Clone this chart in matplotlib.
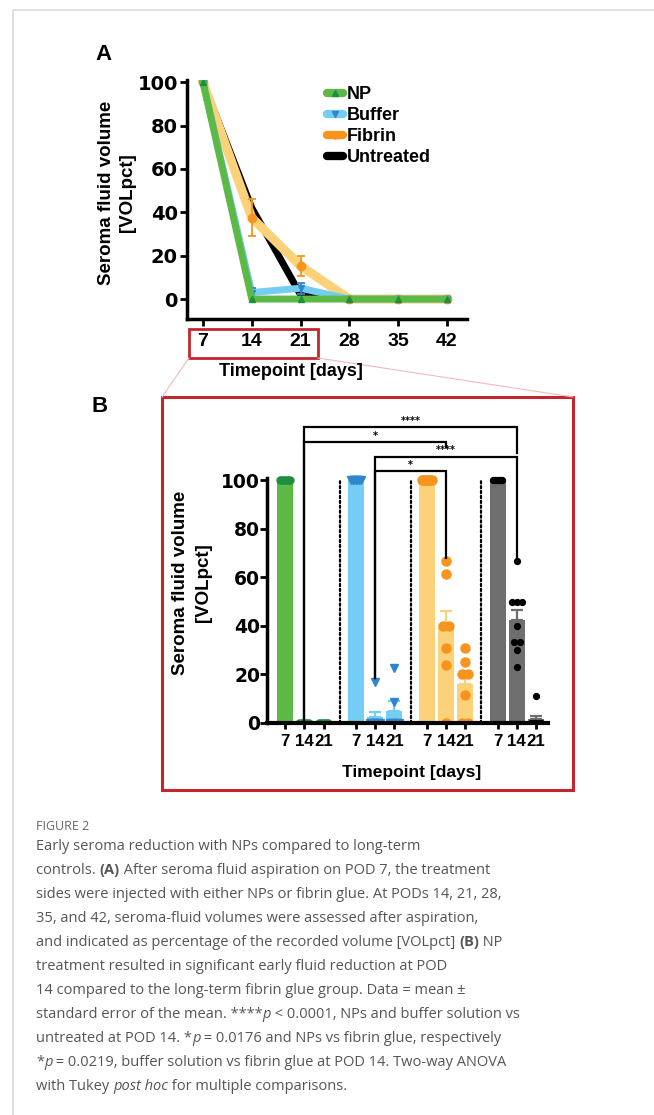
import numpy as np
import matplotlib
matplotlib.use("Agg")
import matplotlib.pyplot as plt
from matplotlib.lines import Line2D
from matplotlib.patches import Rectangle

W, H = 654, 1115

# ---- panel A data (percent of day-7 volume) ----
days = [7, 14, 21, 28, 35, 42]
np_a = [100, 0, 0, 0, 0, 0]
buffer_a = [100, 3, 5, 0, 0, 0]
buffer_a_err = [0, 2, 2.5, 0, 0, 0]
fibrin_a = [100, 37.5, 15.3, 0, 0, 0]
fibrin_a_err = [0, 8.5, 4.5, 0, 0, 0]
untreated_a = [100, 42, 2, 0, 0, 0]
legend_labels = ['NP', 'Buffer', 'Fibrin', 'Untreated']

# ---- panel B data (days 7, 14, 21 per group) ----
tp_labels = ['7', '14', '21']
np_b_mean = [100, 0, 0]
np_b_sem = [0, 0, 0]
np_b_pts = [[100] * 7, [0] * 7, [0] * 7]
buffer_b_mean = [100, 2.5, 5]
buffer_b_sem = [0, 2, 4]
buffer_b_pts = [[100] * 7, [17] + [0] * 6, [22.5, 8.5] + [0] * 5]
fibrin_b_mean = [100, 39, 16]
fibrin_b_sem = [0, 7, 4]
fibrin_b_pts = [[100] * 7,
                [66.7, 61.5, 40, 40, 30.8, 24, 0],
                [30.8, 25, 20, 20, 11.5, 0, 0]]
untreated_b_mean = [100, 42.5, 1.5]
untreated_b_sem = [0, 4, 1.2]
untreated_b_pts = [[100] * 9,
                   [66.7, 50, 50, 50, 40, 33.3, 33.3, 30, 23],
                   [11] + [0] * 8]
# comparisons at POD 14: (group a, group b, label)
comparisons = [(0, 3, '****'), (0, 2, '*'), (1, 3, '****'), (1, 2, '*')]

GREEN, GREEN_D = '#5cb946', '#1f8f3f'
BLUE, BLUE_D = '#74cdf3', '#2f86cc'
YEL, ORANGE = '#fbd27a', '#f7941d'
GRAY = '#6e6e6e'
RED = '#c1272d'
PINK = '#f3b9bd'

fig = plt.figure(figsize=(W / 100, H / 100), dpi=100)


def fx(x):
    return x / W


def fy(y):
    return 1 - y / H


def rect(l, t, r, b):
    return [l / W, 1 - b / H, (r - l) / W, (b - t) / H]


bold = dict(family='Liberation Sans', weight='bold')
tickfont = dict(family='DejaVu Sans', weight='bold', size=13.5)

# page border
fig.add_artist(Line2D([fx(13), fx(13), fx(W)], [fy(H), fy(10), fy(10)],
                      transform=fig.transFigure, color='#d9d9d9', lw=1.2))

# ================= panel A =================
axA = fig.add_axes(rect(187, 80, 467, 319))
axA.plot(days, untreated_a, color='black', lw=5, marker='o', ms=3, zorder=2)
axA.plot(days, fibrin_a, color=YEL, lw=6.5, zorder=3)
axA.errorbar(days, fibrin_a, yerr=fibrin_a_err, fmt='o', color=ORANGE, ms=6,
             capsize=3, elinewidth=1.3, capthick=1.3, zorder=4)
axA.plot(days, buffer_a, color=BLUE, lw=5, zorder=5)
axA.errorbar(days, buffer_a, yerr=buffer_a_err, fmt='v', color=BLUE_D, ms=5,
             capsize=3, elinewidth=1.3, capthick=1.3, zorder=6)
axA.plot(days, np_a, color=GREEN, lw=5, marker='^', mfc=GREEN_D, mec=GREEN_D,
         ms=5, zorder=7)
axA.set_xlim(4.7, 44.9)
axA.set_ylim(-9.2, 101)
for s in ['top', 'right']:
    axA.spines[s].set_visible(False)
for s in ['left', 'bottom']:
    axA.spines[s].set_linewidth(2.5)
axA.set_xticks(days)
axA.set_yticks([0, 20, 40, 60, 80, 100])
axA.tick_params(axis='y', width=2, length=5, pad=1.5)
axA.tick_params(axis='x', width=2, length=5, pad=5)
for lab in axA.get_yticklabels():
    lab.set(family='DejaVu Sans', weight='bold', size=14)
for lab in axA.get_xticklabels():
    lab.set(family='Liberation Sans', weight='bold', size=14)

handles = [
    Line2D([], [], color=GREEN, lw=6, marker='^', mfc=GREEN_D, mec=GREEN_D, ms=4,
           solid_capstyle='round'),
    Line2D([], [], color=BLUE, lw=6, marker='v', mfc=BLUE_D, mec=BLUE_D, ms=4,
           solid_capstyle='round'),
    Line2D([], [], color=ORANGE, lw=6, marker='o', ms=5, solid_capstyle='round'),
    Line2D([], [], color='black', lw=6, solid_capstyle='round'),
]
axA.legend(handles, legend_labels, loc='upper left',
           bbox_to_anchor=(fx(327), fy(86)), bbox_transform=fig.transFigure,
           frameon=False, handlelength=0.9, handletextpad=0.2,
           labelspacing=0.22, borderpad=0, borderaxespad=0,
           prop=dict(family='Liberation Sans', weight='bold', size=13))

fig.text(fx(117), fy(193), 'Seroma fluid volume\n[VOLpct]', rotation=90,
         ha='center', va='center', size=13.5, linespacing=1.3, **bold)
fig.text(fx(291), fy(372), 'Timepoint [days]', ha='center', va='center',
         size=13, **bold)
fig.text(fx(103), fy(55), 'A', ha='center', va='center', size=16, **bold)
fig.text(fx(100), fy(407), 'B', ha='center', va='center', size=16, **bold)

# zoom boxes and connectors
fig.add_artist(Rectangle((fx(189), fy(358)), fx(318) - fx(189), fy(329) - fy(358),
                         transform=fig.transFigure, fill=False, ec=RED, lw=2))
fig.add_artist(Line2D([fx(189), fx(162)], [fy(358), fy(397)],
                      transform=fig.transFigure, color=PINK, lw=0.8))
fig.add_artist(Line2D([fx(318), fx(573)], [fy(358), fy(397)],
                      transform=fig.transFigure, color=PINK, lw=0.8))
fig.add_artist(Rectangle((fx(162), fy(790)), fx(573) - fx(162), fy(397) - fy(790),
                         transform=fig.transFigure, fill=False, ec=RED, lw=2.2))

# ================= panel B =================
py = 2.43  # px per unit
axB = fig.add_axes(rect(267, 723 - 104 * py, 548, 723))
gstep = 3.68
groups = [
    (np_b_mean, np_b_sem, np_b_pts, GREEN, GREEN_D, 'o', 5),
    (buffer_b_mean, buffer_b_sem, buffer_b_pts, BLUE, BLUE_D, 'v', 5.5),
    (fibrin_b_mean, fibrin_b_sem, fibrin_b_pts, YEL, ORANGE, 'o', 6.5),
    (untreated_b_mean, untreated_b_sem, untreated_b_pts, GRAY, 'black', 'o', 4.2),
]


def spread(values, step=0.32, maxw=0.5):
    values = np.asarray(values, float)
    offs = np.zeros(len(values))
    for v in np.unique(values):
        idx = np.where(values == v)[0]
        c = len(idx)
        if c > 1:
            st = min(step, maxw / (c - 1))
            offs[idx] = (np.arange(c) - (c - 1) / 2) * st
    return offs


all_pos = []
for g, (mean, sem, pts, col, mcol, mk, ms) in enumerate(groups):
    pos = g * gstep + np.arange(3)
    all_pos.extend(pos)
    axB.bar(pos, mean, width=0.83, color=col, zorder=2)
    axB.errorbar(pos, mean, yerr=[np.zeros(3), sem], fmt='none', ecolor=col,
                 capsize=4, elinewidth=1.6, capthick=1.6, zorder=3)
    for p, vals in zip(pos, pts):
        axB.plot(p + spread(vals), vals, ls='none', marker=mk, ms=ms,
                 mfc=mcol, mec=mcol, zorder=4)
all_pos = np.array(all_pos)

for g in range(3):
    xm = (all_pos[g * 3 + 2] + all_pos[g * 3 + 3]) / 2
    axB.plot([xm, xm], [0, 100], color='black', lw=1.6, ls=(0, (1, 1.2)),
             dash_capstyle='round', zorder=1)

axB.set_xlim(-0.935, 13.66)
axB.set_ylim(0, 104)
for s in ['top', 'right']:
    axB.spines[s].set_visible(False)
axB.spines['left'].set_linewidth(2.5)
axB.spines['bottom'].set_linewidth(3)
axB.spines['left'].set_bounds(0, 100.7)
axB.spines['bottom'].set_zorder(5)
axB.set_xticks(all_pos)
axB.set_xticklabels(tp_labels * 4)
axB.set_yticks([0, 20, 40, 60, 80, 100])
axB.tick_params(axis='y', width=2, length=5, pad=0)
axB.tick_params(axis='x', width=2, length=4, pad=4)
for lab in axB.get_yticklabels():
    lab.set(**tickfont)
for lab in axB.get_xticklabels():
    lab.set(family='Liberation Sans', weight='bold', size=12.2)

# significance brackets
p14 = [all_pos[g * 3 + 1] for g in range(4)]
bar_y = [121.8, 115.6, 109.5, 103.7]
leg_ends = {(0, 3): (0, 111), (0, 2): (0, 113.7), (1, 3): (18.5, 68), (1, 2): (18.5, 68)}
for (a, b, lab), yb in zip(comparisons, bar_y):
    ya, yb2 = leg_ends[(a, b)]
    axB.plot([p14[a], p14[a], p14[b], p14[b]], [ya, yb, yb, yb2], color='black',
             lw=1.6, clip_on=False, zorder=6, solid_joinstyle='miter')
    axB.text((p14[a] + p14[b]) / 2, yb + 0.6, lab, ha='center', va='bottom',
             size=7, family='DejaVu Sans', weight='bold', clip_on=False)

fig.text(fx(192), fy(583), 'Seroma fluid volume\n[VOLpct]', rotation=90,
         ha='center', va='center', size=13.5, linespacing=1.4, **bold)
fig.text(fx(412), fy(772), 'Timepoint [days]', ha='center', va='center',
         size=12.5, **bold)

# ================= caption =================
CAP = '#555555'
cap_font = dict(family='Open Sans', size=10.5, color=CAP)
fig.text(fx(36), fy(830.5), 'FIGURE 2', ha='left', va='baseline',
         family='Open Sans', size=9, color='#666666')

caption = [
    [('Early seroma reduction with NPs compared to long-term', 'n')],
    [('controls. ', 'n'), ('(A)', 'b'), (' After seroma fluid aspiration on POD 7, the treatment', 'n')],
    [('sides were injected with either NPs or fibrin glue. At PODs 14, 21, 28,', 'n')],
    [('35, and 42, seroma-fluid volumes were assessed after aspiration,', 'n')],
    [('and indicated as percentage of the recorded volume [VOLpct] ', 'n'), ('(B)', 'b'), (' NP', 'n')],
    [('treatment resulted in significant early fluid reduction at POD', 'n')],
    [('14 compared to the long-term fibrin glue group. Data = mean \u00b1', 'n')],
    [('standard error of the mean. ****', 'n'), ('p', 'i'), (' < 0.0001, NPs and buffer solution vs', 'n')],
    [('untreated at POD 14. *', 'n'), ('p', 'i'), (' = 0.0176 and NPs vs fibrin glue, respectively', 'n')],
    [('*', 'n'), ('p', 'i'), (' = 0.0219, buffer solution vs fibrin glue at POD 14. Two-way ANOVA', 'n')],
    [('with Tukey ', 'n'), ('post hoc', 'i'), (' for multiple comparisons.', 'n')],
]
renderer = fig.canvas.get_renderer()


def run_width(s, kw):
    t1 = fig.text(0, 0, s + '|', **kw)
    t2 = fig.text(0, 0, '|', **kw)
    w = t1.get_window_extent(renderer).width - t2.get_window_extent(renderer).width
    t1.remove()
    t2.remove()
    return w


for i, runs in enumerate(caption):
    x = 36
    yb = 850.5 + i * 23.9
    for s, st in runs:
        kw = dict(cap_font)
        if st == 'b':
            kw['weight'] = 'bold'
        elif st == 'i':
            kw['style'] = 'italic'
        fig.text(fx(x), fy(yb), s, ha='left', va='baseline', **kw)
        x += run_width(s, kw)

fig.savefig('out.png', dpi=100)
